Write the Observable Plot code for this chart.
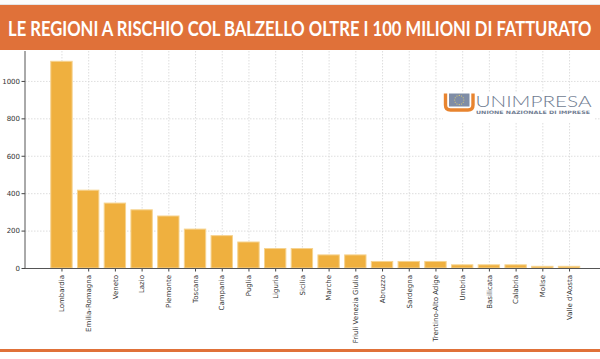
<!DOCTYPE html>
<html><head><meta charset="utf-8">
<script src="https://cdn.jsdelivr.net/npm/d3@7"></script>
<script src="https://cdn.jsdelivr.net/npm/@observablehq/plot@0.6"></script>
<style>
body{margin:0;background:#fff;width:600px;height:359px;overflow:hidden;position:relative;font-family:"DejaVu Sans",sans-serif}
#topline{position:absolute;left:0;top:0;width:600px;height:4px;background:#fbfbfb;border-bottom:1px solid #e4e4e4}
#header{position:absolute;left:0;top:5px;width:600px;height:45px;background:#E07139}
#chart{position:absolute;left:0;top:50px}
#bottomline{position:absolute;left:0;top:349px;width:600px;height:3px;background:#E07139}
#logo{position:absolute;left:443px;top:92px;background:#fff}
</style></head><body>
<div id="topline"></div>
<div id="header"><svg width="600" height="45"><text id="title" x="0" y="0" fill="#fff" font-family="Lato" font-weight="700" font-size="21">LE REGIONI A RISCHIO COL BALZELLO OLTRE I 100 MILIONI DI FATTURATO</text></svg></div>
<div id="chart"></div>
<div id="bottomline"></div>
<div id="logo"><svg width="152" height="26">
<path d="M2.5,1.5 V13 Q2.5,18 7.5,18 H25 Q30,18 30,13 V1.5" fill="none" stroke="#E8842F" stroke-width="3.4"/>
<rect x="6" y="1.5" width="20.5" height="13" fill="#7F8DA6"/>
<g fill="#E9D36A" id="stars"></g>
<text x="32.5" y="15" fill="#6F7C91" font-family="Lato" font-weight="300" font-size="16.5" textLength="116" lengthAdjust="spacingAndGlyphs">UNIMPRESA</text>
<text x="33" y="22" fill="#6F7C91" font-family="DejaVu Sans" font-weight="700" font-size="4.6" textLength="114" lengthAdjust="spacingAndGlyphs">UNIONE NAZIONALE DI IMPRESE</text>
</svg></div>
<script>
const regions = ["Lombardia","Emilia-Romagna","Veneto","Lazio","Piemonte","Toscana","Campania","Puglia","Liguria","Sicilia","Marche","Friuli Venezia Giulia","Abruzzo","Sardegna","Trentino-Alto Adige","Umbria","Basilicata","Calabria","Molise","Valle d'Aosta"];
const values = [1105,416,347,311,278,208,173,139,104,104,70,70,35,35,35,17,17,17,9,9];
const yTicks = [0,200,400,600,800,1000];
const data = regions.map((r,i)=>({region:r,value:values[i]}));

// title: fit the natural width to 584px, then stretch vertically
const t = document.getElementById("title");
const w = t.getComputedTextLength();
const fs = 21 * 584 / w;
t.setAttribute("font-size", fs);
t.setAttribute("transform", `translate(8,31) scale(1,${21 / fs})`);

// stars of the logo
const st = document.getElementById("stars");
for (let k=0;k<12;k++){const a=k*Math.PI/6;const c=document.createElementNS("http://www.w3.org/2000/svg","circle");c.setAttribute("cx",16.25+4.6*Math.cos(a));c.setAttribute("cy",8+4.6*Math.sin(a));c.setAttribute("r",0.55);st.appendChild(c);}

const spine = (index, scales, values, dims) => {
  const d = dims || {marginLeft:25, marginTop:1, height:298, marginBottom:80};
  const l = document.createElementNS("http://www.w3.org/2000/svg","line");
  l.setAttribute("x1", d.marginLeft); l.setAttribute("x2", d.marginLeft);
  l.setAttribute("y1", d.marginTop); l.setAttribute("y2", d.height - d.marginBottom);
  l.setAttribute("stroke", "#555"); l.setAttribute("stroke-width", 1);
  return l;
};

const chart = Plot.plot({
  width: 600, height: 298,
  marginTop: 1, marginBottom: 80, marginLeft: 25, marginRight: 0,
  style: {fontFamily: "DejaVu Sans", fontSize: "7px", color: "#333", background: "transparent"},
  x: {domain: regions, range: [48.1, 582.4], paddingInner: 0.2, paddingOuter: 0.1, round: false, label: null},
  y: {domain: [0, 1160], label: null},
  marks: [
    Plot.ruleY(yTicks.filter(d => d > 0), {stroke: "#d6d6d6", strokeDasharray: "1.5,1.5", strokeWidth: 0.8}),
    Plot.ruleX(regions, {x: d => d, stroke: "#d6d6d6", strokeDasharray: "1.5,1.5", strokeWidth: 0.8}),
    Plot.barY(data, {x: "region", y: "value", fill: "#EFB03F", stroke: "#F6D38F", strokeWidth: 1}),
    Plot.axisY({ticks: yTicks, tickFormat: d3.format("d"), tickSize: 3.5, tickPadding: 2, label: null, stroke: "#444", fill: "#333"}),
    Plot.axisX({tickSize: 3.5, tickPadding: 3, tickRotate: -90, label: null, stroke: "#444", fill: "#333"}),
    Plot.ruleY([0], {stroke: "#555", strokeWidth: 1}),
    spine
  ]
});
document.getElementById("chart").appendChild(chart);
</script>
</body></html>
